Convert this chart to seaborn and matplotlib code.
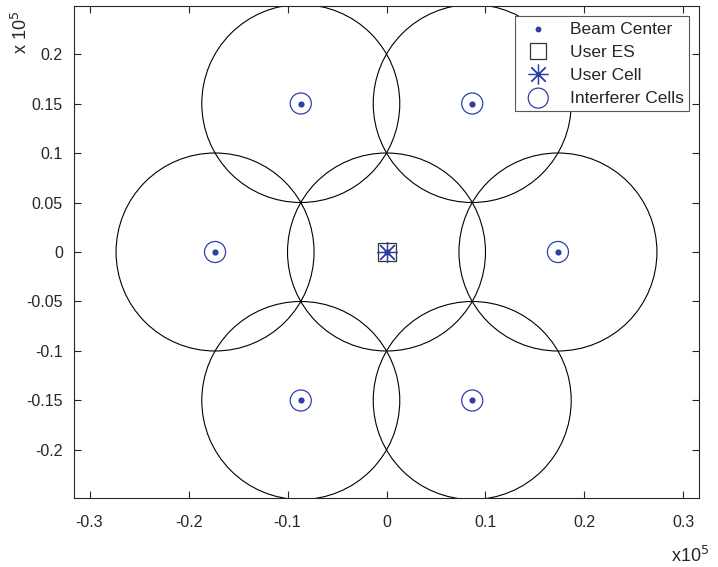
import numpy as np
import pandas as pd
import matplotlib
matplotlib.use("Agg")
import matplotlib.pyplot as plt
from matplotlib.patches import Circle
import seaborn as sns

sns.set_style("white")
plt.rcParams['font.family'] = ['Liberation Sans', 'DejaVu Sans']

# Data (units of 1e5 m)
beam_x = [0.0, 0.1732, 0.0866, -0.0866, -0.1732, -0.0866, 0.0866]
beam_y = [0.0, 0.0, 0.15, 0.15, 0.0, -0.15, -0.15]
interf_x = [0.1732, 0.0866, -0.0866, -0.1732, -0.0866, 0.0866]
interf_y = [0.0, 0.15, 0.15, 0.0, -0.15, -0.15]
user_es = [0.0, 0.0]
user_cell = [0.0, 0.0]
cell_radius = 0.1

x_ticks = [-0.3, -0.2, -0.1, 0, 0.1, 0.2, 0.3]
y_ticks = [-0.2, -0.15, -0.1, -0.05, 0, 0.05, 0.1, 0.15, 0.2]

blue = "#2f40a5"
txt = "#262626"

fig = plt.figure(figsize=(7.18, 5.67), dpi=100)
ax = fig.add_axes([74/718, 1-498/567, 625/718, 492/567])

# cell circles
for cx, cy in zip(beam_x, beam_y):
    ax.add_patch(Circle((cx, cy), cell_radius, fill=False, ec="black", lw=0.8, zorder=1))

df_beam = pd.DataFrame({"x": beam_x, "y": beam_y})
df_int = pd.DataFrame({"x": interf_x, "y": interf_y})

sns.scatterplot(data=df_beam, x="x", y="y", ax=ax, marker="o", s=20, color=blue,
                edgecolor=blue, linewidth=0, label="Beam Center", zorder=4)
ax.plot([user_es[0]], [user_es[1]], linestyle="none", marker="s", ms=12.5, mfc="none",
        mec="#333333", mew=0.9, label="User ES", zorder=3)
ax.plot([user_cell[0]], [user_cell[1]], linestyle="none", marker=(8, 2, 0), ms=15,
        color=blue, mew=0.9, label="User Cell", zorder=3)
sns.scatterplot(data=df_int, x="x", y="y", ax=ax, marker="o", s=230, facecolor="none",
                edgecolor=blue, linewidth=0.9, label="Interferer Cells", zorder=3)

ax.set_xlim(-0.3157, 0.3157)
ax.set_ylim(-0.2485, 0.2485)
ax.set_xticks(x_ticks)
ax.set_yticks(y_ticks)
ax.set_xticklabels(["-0.3", "-0.2", "-0.1", "0", "0.1", "0.2", "0.3"])
ax.set_yticklabels(["-0.2", "-0.15", "-0.1", "-0.05", "0", "0.05", "0.1", "0.15", "0.2"])
ax.set_xlabel("")
ax.set_ylabel("")
ax.tick_params(direction="in", length=5, width=0.8, colors=txt, labelsize=11.5,
               top=True, right=True, bottom=True, left=True, pad=8)
ax.tick_params(axis="x", pad=12)
for s in ax.spines.values():
    s.set_color(txt)
    s.set_linewidth(0.8)
    s.set_visible(True)

leg = ax.legend(loc="upper right", fontsize=12.5, frameon=True, fancybox=False,
                borderpad=0.3, handletextpad=0.75, labelspacing=0.45, borderaxespad=0.6,
                handlelength=2.1, markerscale=0.95)
leg.get_frame().set_edgecolor("#555555")
leg.get_frame().set_linewidth(0.8)
leg.get_frame().set_alpha(1)

fig.text(671/718, 1-556/567, r"x10$^5$", fontsize=13, color=txt, ha="left", va="center")
fig.text(21/718, 1-32/567, r"x 10$^5$", fontsize=13, color=txt, ha="center", va="center",
         rotation=90)

fig.savefig("out.png", dpi=100)
